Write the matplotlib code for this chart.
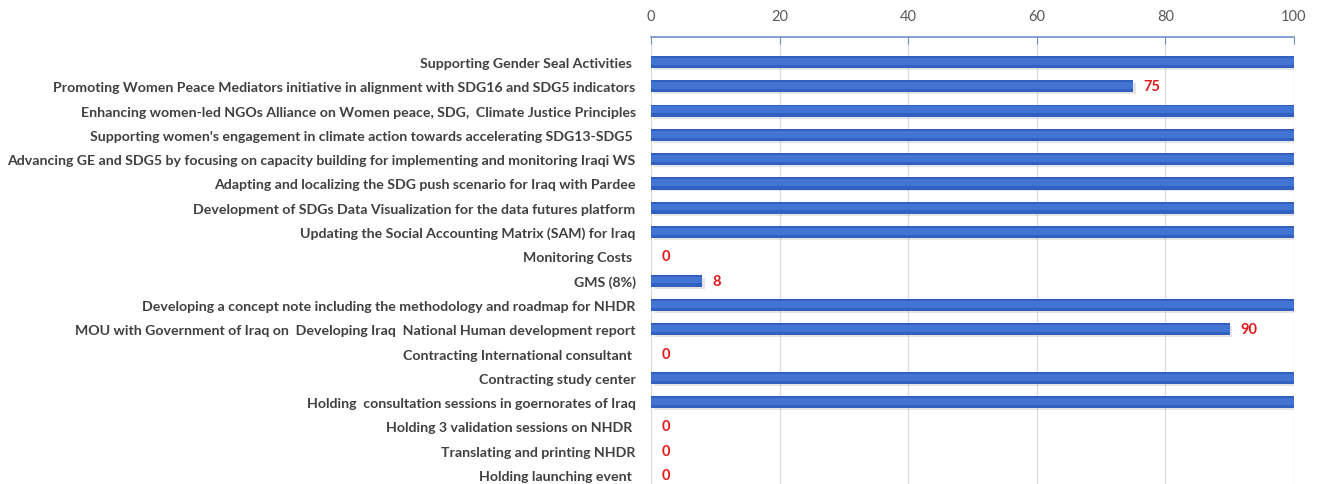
import matplotlib.pyplot as plt
import numpy as np

activities = [
    "Supporting Gender Seal Activities ",
    "Promoting Women Peace Mediators initiative in alignment with SDG16 and SDG5 indicators",
    "Enhancing women-led NGOs Alliance on Women peace, SDG,  Climate Justice Principles",
    "Supporting women's engagement in climate action towards accelerating SDG13-SDG5 ",
    "Advancing GE and SDG5 by focusing on capacity building for implementing and monitoring Iraqi WS",
    "Adapting and localizing the SDG push scenario for Iraq with Pardee",
    "Development of SDGs Data Visualization for the data futures platform",
    "Updating the Social Accounting Matrix (SAM) for Iraq",
    "Monitoring Costs ",
    "GMS (8%)",
    "Developing a concept note including the methodology and roadmap for NHDR",
    "MOU with Government of Iraq on  Developing Iraq  National Human development report",
    "Contracting International consultant ",
    "Contracting study center",
    "Holding  consultation sessions in goernorates of Iraq",
    "Holding 3 validation sessions on NHDR ",
    "Translating and printing NHDR",
    "Holding launching event ",
]
progress = [100, 75, 100, 100, 100, 100, 100, 100, 0, 8, 100, 90, 0, 100, 100, 0, 0, 0]
ticks = [0, 20, 40, 60, 80, 100]

plt.rcParams['font.family'] = ['Lato', 'DejaVu Sans']

fig = plt.figure(figsize=(13.17, 4.85), dpi=100)
ax = fig.add_axes([651/1317, 0, 643/1317, 447/485])

y = np.arange(len(activities))
# shadow, body and highlight to mimic the 3D-ish bars
ax.barh(y + 0.1, progress, height=0.45, left=0.4, color='#9a9a9a', alpha=0.25, zorder=2)
ax.barh(y, progress, height=0.5, color='#3260c0', zorder=3)
ax.barh(y - 0.03, progress, height=0.28, color='#4274d4', zorder=4)

for yi, v in zip(y, progress):
    if v < 100:
        ax.text(v + 1.6, yi, str(v), color='#e3191c', fontweight='bold',
                fontsize=10.5, va='center', ha='left')

ax.set_xlim(0, 100)
ax.set_ylim(len(activities) - 1 + 0.37, -1.03)
ax.set_xticks(ticks)
ax.set_yticks(y)
labels = ax.set_yticklabels(activities, fontsize=10.5, fontweight='bold', color='#404040')
ax.xaxis.tick_top()
ax.tick_params(axis='x', direction='in', length=5, color='#6f8fc8', labelcolor='#595959',
               labelsize=10.5, pad=10)
ax.tick_params(axis='y', length=0, pad=11)
ax.grid(axis='x', color='#d9d9d9', linewidth=0.9, zorder=0)
ax.set_axisbelow(True)
for s in ['left', 'right', 'bottom']:
    ax.spines[s].set_visible(False)
ax.spines['top'].set_color('#6f8fc8')
ax.spines['top'].set_linewidth(1.2)

# shrink label font so the longest one fits in the left margin like the original
fig.canvas.draw()
r = fig.canvas.get_renderer()
widest = max(t.get_window_extent(r).width for t in labels)
fs = 10.5 * 632 / widest
for t in labels:
    t.set_fontsize(fs)

fig.savefig('out.png', dpi=100)
